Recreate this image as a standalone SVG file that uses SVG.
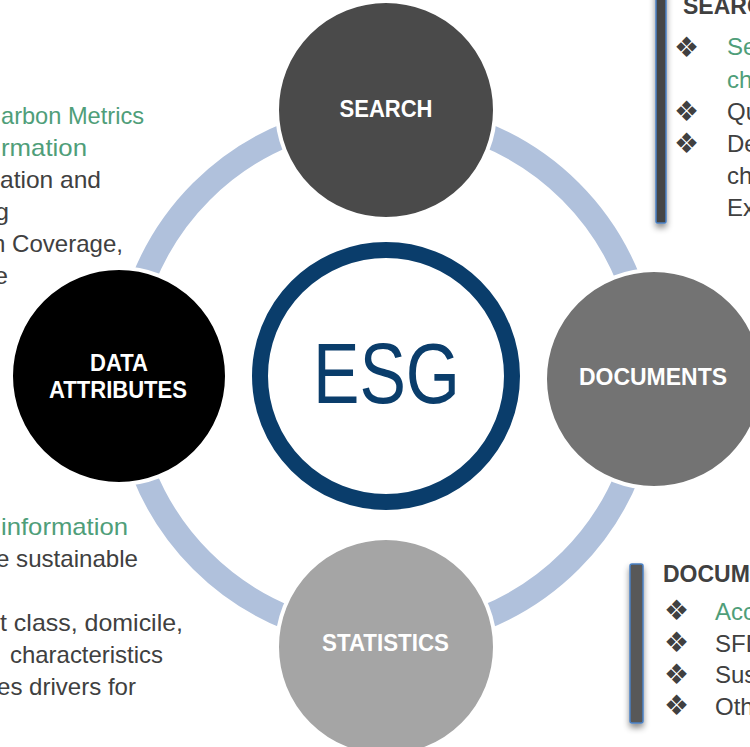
<svg xmlns="http://www.w3.org/2000/svg" width="750" height="747" viewBox="0 0 750 747">
<style>
  .body { font-family: "Liberation Sans", Arial, sans-serif; font-size: 24px; fill: #404040; }
  .green { fill: #4f9e79; }
  .head { font-family: "Liberation Sans", Arial, sans-serif; font-size: 23px; font-weight: bold; fill: #404040; }
  .bul { font-family: "DejaVu Sans", sans-serif; font-size: 28px; fill: #404040; }
  .lbl { font-family: "Liberation Sans", Arial, sans-serif; font-size: 24px; font-weight: bold; fill: #ffffff; text-anchor: middle; }
  .node { stroke: #ffffff; stroke-width: 4; }
  .bar { stroke: #4a80c4; stroke-width: 1.5; }
</style>
<defs>
  <filter id="sh" x="-100%" y="-20%" width="300%" height="140%">
    <feDropShadow dx="0" dy="4" stdDeviation="3" flood-color="#000" flood-opacity="0.45"/>
  </filter>
</defs>
<rect width="750" height="747" fill="#ffffff"/>

<g id="connectors">
  <circle cx="386" cy="376" r="261" fill="none" stroke="#b0c1dc" stroke-width="24"/>
</g>

<g id="node-esg">
  <circle cx="386" cy="376" r="126" fill="#ffffff" stroke="#0a3d6b" stroke-width="16"/>
  <text x="386.5" y="403" text-anchor="middle" font-family="Liberation Sans, Arial, sans-serif" font-size="85" fill="#0a3d6b" textLength="147" lengthAdjust="spacingAndGlyphs">ESG</text>
</g>

<g id="node-search">
  <circle class="node" cx="386" cy="110" r="109" fill="#4a4a4a"/>
  <text class="lbl" x="386" y="117" textLength="93" lengthAdjust="spacingAndGlyphs">SEARCH</text>
</g>

<g id="node-documents">
  <circle class="node" cx="654" cy="379" r="109" fill="#737373"/>
  <text class="lbl" x="653" y="385" textLength="148" lengthAdjust="spacingAndGlyphs">DOCUMENTS</text>
</g>

<g id="node-statistics">
  <circle class="node" cx="386" cy="647" r="109" fill="#a5a5a5"/>
  <text class="lbl" x="385.5" y="651" textLength="127" lengthAdjust="spacingAndGlyphs">STATISTICS</text>
</g>

<g id="node-data-attributes">
  <circle class="node" cx="119" cy="376" r="108" fill="#000000"/>
  <text class="lbl" x="119" y="371" textLength="58" lengthAdjust="spacingAndGlyphs">DATA</text>
  <text class="lbl" x="118" y="398" textLength="138" lengthAdjust="spacingAndGlyphs">ATTRIBUTES</text>
</g>

<g id="text-top-left">
  <text class="body green" x="1" y="124" textLength="143" lengthAdjust="spacingAndGlyphs">arbon Metrics</text>
  <text class="body green" x="1" y="156" textLength="86" lengthAdjust="spacingAndGlyphs">rmation</text>
  <text class="body" x="0" y="188" textLength="101" lengthAdjust="spacingAndGlyphs">ation and</text>
  <text class="body" x="-5" y="220" textLength="14" lengthAdjust="spacingAndGlyphs">g</text>
  <text class="body" x="-8" y="252" textLength="131" lengthAdjust="spacingAndGlyphs">n Coverage,</text>
  <text class="body" x="-6" y="284" textLength="14" lengthAdjust="spacingAndGlyphs">e</text>
</g>

<g id="text-bottom-left">
  <text class="body green" x="1" y="535" textLength="127" lengthAdjust="spacingAndGlyphs">information</text>
  <text class="body" x="-4" y="567" textLength="142" lengthAdjust="spacingAndGlyphs">e sustainable</text>
  <text class="body" x="0" y="631" textLength="183" lengthAdjust="spacingAndGlyphs">t class, domicile,</text>
  <text class="body" x="10" y="663" textLength="153" lengthAdjust="spacingAndGlyphs">characteristics</text>
  <text class="body" x="-3" y="695" textLength="139" lengthAdjust="spacingAndGlyphs">es drivers for</text>
</g>

<g id="panel-search">
  <rect class="bar" x="656" y="-10" width="10" height="233" rx="1.5" fill="#444444" filter="url(#sh)"/>
  <text class="head" x="683" y="14">SEARC</text>
  <text class="bul green" x="674" y="57">❖</text>
  <text class="body green" x="727" y="55">Se</text>
  <text class="body green" x="727" y="88">ch</text>
  <text class="bul" x="674" y="121">❖</text>
  <text class="body" x="727" y="120">Qu</text>
  <text class="bul" x="674" y="153">❖</text>
  <text class="body" x="727" y="152">De</text>
  <text class="body" x="727" y="184">ch</text>
  <text class="body" x="727" y="216">Ex</text>
</g>

<g id="panel-documents">
  <rect class="bar" x="630" y="564" width="13" height="159" rx="2" fill="#595959" filter="url(#sh)"/>
  <text class="head" x="663" y="582">DOCUM</text>
  <text class="bul green" x="664" y="620">❖</text>
  <text class="body green" x="715" y="620">Acc</text>
  <text class="bul" x="664" y="652">❖</text>
  <text class="body" x="715" y="652">SFD</text>
  <text class="bul" x="664" y="684">❖</text>
  <text class="body" x="715" y="683">Sus</text>
  <text class="bul" x="664" y="715">❖</text>
  <text class="body" x="715" y="715">Oth</text>
</g>
</svg>
